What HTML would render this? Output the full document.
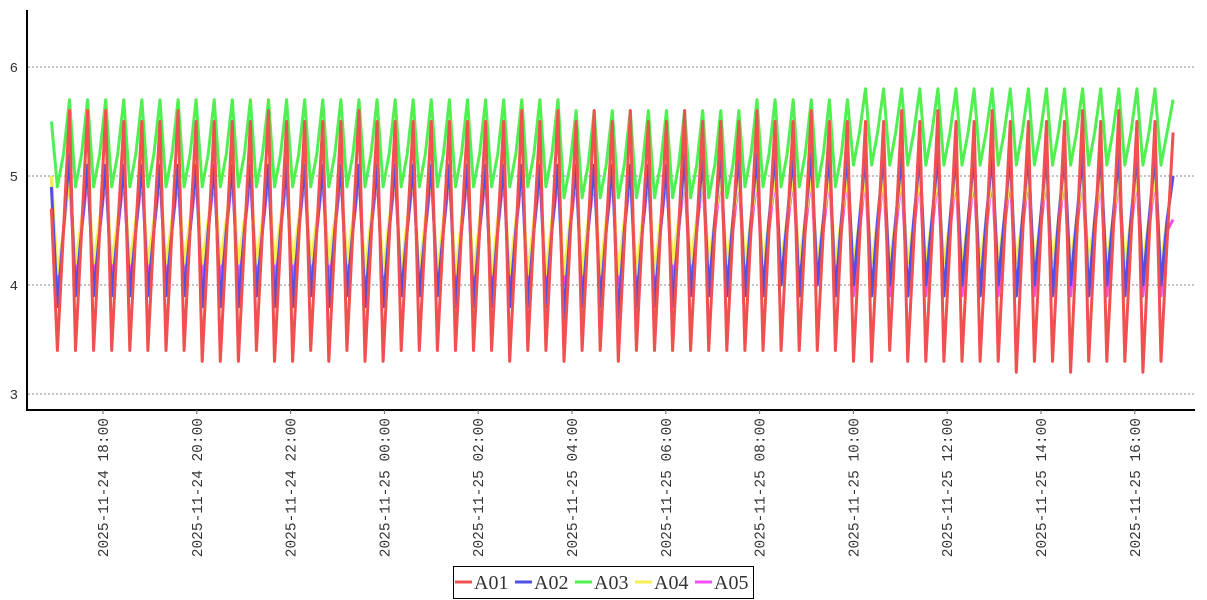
<!DOCTYPE html>
<html><head><meta charset="utf-8"><style>
body{margin:0;background:#fff;width:1207px;height:600px;overflow:hidden}
svg{display:block}
</style></head><body>
<svg id="chart" width="1207" height="600" xmlns="http://www.w3.org/2000/svg">
<g id="grid"></g>
<g id="series"></g>
<g id="axes"></g>
<g id="legend"></g>
</svg>
<script>
const yTicks=[3,4,5,6];
const xTickLabels=["2025-11-24 18:00","2025-11-24 20:00","2025-11-24 22:00","2025-11-25 00:00","2025-11-25 02:00","2025-11-25 04:00","2025-11-25 06:00","2025-11-25 08:00","2025-11-25 10:00","2025-11-25 12:00","2025-11-25 14:00","2025-11-25 16:00"];
const xTickHours=[18,20,22,24,26,28,30,32,34,36,38,40];
const seriesNames=["A01","A02","A03","A04","A05"];
const startHour=16.9;
const stepMinutes=7.715;
const a01=[4.7,
3.4,4.5,5.6,3.4,4.5,5.6,3.4,4.5,5.6,3.4,4.5,5.5,3.4,4.5,5.5,3.4,4.5,5.5,3.4,4.5,5.6,3.4,4.5,5.5,3.3,4.4,5.5,3.3,4.4,5.5,
3.3,4.4,5.5,3.4,4.5,5.6,3.3,4.4,5.5,3.3,4.4,5.5,3.4,4.5,5.5,3.3,4.4,5.5,3.4,4.5,5.6,3.3,4.4,5.5,3.3,4.4,5.5,3.4,4.5,5.5,
3.4,4.5,5.5,3.4,4.5,5.5,3.4,4.5,5.5,3.4,4.5,5.5,3.4,4.5,5.5,3.3,4.4,5.6,3.4,4.5,5.5,3.4,4.5,5.6,3.3,4.4,5.5,3.4,4.5,5.6,
3.4,4.5,5.5,3.3,4.4,5.6,3.4,4.5,5.5,3.4,4.5,5.5,3.4,4.5,5.6,3.4,4.5,5.5,3.4,4.5,5.5,3.4,4.5,5.5,3.4,4.5,5.6,3.4,4.5,5.5,
3.4,4.5,5.5,3.4,4.5,5.6,3.4,4.5,5.5,3.4,4.5,5.5,3.3,4.4,5.5,3.3,4.4,5.5,3.4,4.5,5.6,3.3,4.4,5.5,3.3,4.4,5.6,3.3,4.4,5.5,
3.3,4.4,5.5,3.3,4.4,5.6,3.3,4.4,5.5,3.2,4.4,5.5,3.3,4.4,5.5,3.3,4.4,5.5,3.2,4.4,5.6,3.3,4.4,5.5,3.3,4.4,5.6,3.3,4.4,5.5,
3.2,4.4,5.5,3.3,4.4,5.4];
const a02=[4.9,
3.8,4.5,5.2,3.9,4.5,5.1,3.9,4.5,5.1,3.9,4.5,5.1,3.9,4.5,5.1,3.9,4.5,5.1,3.9,4.5,5.1,3.9,4.5,5.1,3.8,4.5,5.1,3.8,4.5,5.1,
3.8,4.5,5.1,3.9,4.5,5.1,3.8,4.5,5.1,3.8,4.5,5.1,3.9,4.5,5.1,3.8,4.5,5.1,3.9,4.5,5.1,3.8,4.5,5.1,3.8,4.5,5.1,3.9,4.5,5.1,
3.9,4.5,5.1,3.9,4.5,5.1,3.8,4.5,5.1,3.8,4.5,5.1,3.8,4.5,5.1,3.8,4.5,5.1,3.8,4.5,5.1,3.8,4.5,5.1,3.7,4.5,5.1,3.8,4.5,5.1,
3.8,4.5,5.1,3.7,4.5,5.1,3.8,4.5,5.1,3.8,4.5,5.1,3.8,4.5,5.2,3.9,4.5,5.2,3.9,4.6,5.2,3.9,4.6,5.2,3.9,4.6,5.2,3.9,4.6,5.2,
4.0,4.6,5.2,3.9,4.6,5.2,4.0,4.6,5.2,3.9,4.6,5.2,4.0,4.6,5.2,3.9,4.6,5.2,4.0,4.6,5.2,3.9,4.6,5.2,4.0,4.6,5.2,3.9,4.6,5.2,
4.0,4.6,5.2,3.9,4.6,5.2,4.0,4.6,5.2,3.9,4.6,5.2,4.0,4.6,5.2,3.9,4.6,5.2,4.0,4.6,5.2,3.9,4.6,5.2,4.0,4.6,5.2,3.9,4.6,5.2,
4.0,4.6,5.2,4.0,4.6,5.0];
const a03=[5.5,
4.9,5.2,5.7,4.9,5.2,5.7,4.9,5.2,5.7,4.9,5.2,5.7,4.9,5.2,5.7,4.9,5.2,5.7,4.9,5.2,5.7,4.9,5.2,5.7,4.9,5.2,5.7,4.9,5.2,5.7,
4.9,5.2,5.7,4.9,5.2,5.7,4.9,5.2,5.7,4.9,5.2,5.7,4.9,5.2,5.7,4.9,5.2,5.7,4.9,5.2,5.7,4.9,5.2,5.7,4.9,5.2,5.7,4.9,5.2,5.7,
4.9,5.2,5.7,4.9,5.2,5.7,4.9,5.2,5.7,4.9,5.2,5.7,4.9,5.2,5.7,4.9,5.2,5.7,4.9,5.2,5.7,4.9,5.2,5.7,4.8,5.1,5.6,4.8,5.1,5.6,
4.8,5.1,5.6,4.8,5.1,5.6,4.8,5.1,5.6,4.8,5.1,5.6,4.8,5.1,5.6,4.8,5.1,5.6,4.8,5.1,5.6,4.8,5.1,5.6,4.9,5.2,5.7,4.9,5.2,5.7,
4.9,5.2,5.7,4.9,5.2,5.7,4.9,5.2,5.7,4.9,5.2,5.7,5.1,5.4,5.8,5.1,5.4,5.8,5.1,5.4,5.8,5.1,5.4,5.8,5.1,5.4,5.8,5.1,5.4,5.8,
5.1,5.4,5.8,5.1,5.4,5.8,5.1,5.4,5.8,5.1,5.4,5.8,5.1,5.4,5.8,5.1,5.4,5.8,5.1,5.4,5.8,5.1,5.4,5.8,5.1,5.4,5.8,5.1,5.4,5.8,
5.1,5.4,5.8,5.1,5.4,5.7];
const a04=[5.0,
4.1,4.5,5.0,4.2,4.6,5.0,4.2,4.6,5.0,4.2,4.6,5.0,4.2,4.6,5.0,4.2,4.6,5.0,4.2,4.6,5.0,4.2,4.6,5.0,4.2,4.6,5.0,4.2,4.6,5.0,
4.2,4.6,5.0,4.2,4.6,5.0,4.2,4.6,5.0,4.2,4.6,5.0,4.2,4.6,5.0,4.2,4.6,5.0,4.2,4.6,5.0,4.1,4.6,5.0,4.1,4.6,5.0,4.1,4.6,5.0,
4.1,4.6,5.0,4.1,4.6,5.0,4.1,4.6,5.0,4.1,4.6,5.0,4.1,4.6,5.0,4.1,4.6,5.0,4.1,4.6,5.0,4.1,4.6,5.0,4.1,4.6,5.0,4.1,4.6,5.0,
4.1,4.6,5.0,4.1,4.6,5.0,4.1,4.6,5.0,4.1,4.6,5.0,4.2,4.6,5.0,4.2,4.6,5.0,4.2,4.6,5.0,4.2,4.6,5.0,4.2,4.6,5.0,4.2,4.6,5.0,
4.2,4.6,5.0,4.2,4.6,5.0,4.2,4.6,5.0,4.2,4.6,5.0,4.2,4.6,5.0,4.2,4.6,5.0,4.2,4.6,5.0,4.2,4.6,5.0,4.2,4.6,5.0,4.2,4.6,5.0,
4.2,4.6,5.0,4.2,4.6,5.0,4.2,4.6,5.0,4.2,4.6,5.0,4.2,4.6,5.0,4.2,4.6,5.0,4.2,4.6,5.0,4.2,4.6,5.0,4.2,4.6,5.0,4.2,4.6,5.0,
4.2,4.6,5.0,4.2,4.6,5.0];
const a05=[5.0,
4.0,4.5,5.0,4.0,4.5,5.0,4.1,4.5,5.0,4.1,4.5,5.0,4.0,4.5,5.0,4.0,4.5,5.0,4.0,4.5,5.0,4.0,4.5,5.0,4.0,4.5,5.0,4.0,4.5,5.0,
4.0,4.5,5.0,4.0,4.5,5.0,4.0,4.5,5.0,4.0,4.5,5.0,4.0,4.5,5.0,4.0,4.5,5.0,4.0,4.5,5.0,4.0,4.5,5.0,4.0,4.5,5.0,4.0,4.5,5.0,
4.0,4.5,5.0,4.0,4.5,5.0,4.0,4.5,5.0,4.0,4.5,5.0,4.0,4.5,5.0,4.0,4.5,5.0,4.0,4.5,5.0,4.0,4.5,5.0,4.0,4.5,5.0,4.0,4.5,5.0,
4.0,4.5,5.0,4.0,4.5,5.0,4.0,4.5,5.0,4.0,4.5,5.0,4.0,4.5,5.0,4.0,4.5,5.0,4.0,4.5,5.0,4.0,4.5,5.0,4.0,4.5,5.0,4.0,4.5,5.0,
4.0,4.5,5.0,4.0,4.5,5.0,4.0,4.5,5.0,4.0,4.5,5.0,3.9,4.5,5.0,3.9,4.5,5.0,3.9,4.5,5.0,3.9,4.5,5.0,3.9,4.5,5.0,3.9,4.5,5.0,
3.9,4.5,5.0,3.9,4.5,5.0,3.9,4.5,5.0,3.9,4.5,5.0,3.9,4.5,5.0,3.9,4.5,5.0,3.9,4.5,5.0,3.9,4.5,5.0,3.9,4.5,5.0,3.9,4.5,5.0,
3.9,4.5,5.0,3.9,4.5,4.6];
const colors=["#f05050","#5050e6","#50f050","#f5f050","#f050f0"];

const NS="http://www.w3.org/2000/svg";
const X0=28,X1=1195,YTOP=10,YBOT=410;
function xScale(h){return 103+(h-18)*46.9;}
function yScale(v){return 176-(v-5)*109;}
function mk(tag,attrs,parent){const e=document.createElementNS(NS,tag);for(const k in attrs)e.setAttribute(k,attrs[k]);parent.appendChild(e);return e;}

const grid=document.getElementById('grid'),axes=document.getElementById('axes'),ser=document.getElementById('series'),leg=document.getElementById('legend');
yTicks.forEach(v=>{
  const l=mk('line',{x1:X0,x2:X1,y1:yScale(v),y2:yScale(v),stroke:'#888','stroke-width':1,'stroke-dasharray':'2,2'},grid);
  
  
  const t=mk('text',{x:18,y:yScale(v)+5,'text-anchor':'end','font-family':'Liberation Mono, monospace','font-size':14,fill:'#333'},axes);
  t.textContent=v;
  
  
});
const ya=mk('line',{x1:27,x2:27,y1:YTOP,y2:YBOT+1,stroke:'#000','stroke-width':2},axes);


const xa=mk('line',{x1:26,x2:X1,y1:YBOT,y2:YBOT,stroke:'#000','stroke-width':2},axes);


xTickLabels.forEach((lab,i)=>{
  const x=xScale(xTickHours[i]);
  const tk=mk('line',{x1:x,x2:x,y1:YBOT,y2:YBOT+4,stroke:'#666','stroke-width':1},axes);
  
  
  const t=mk('text',{x:0,y:0,'text-anchor':'end','font-family':'Liberation Mono, monospace','font-size':14.5,fill:'#333',transform:`translate(${x+5},418) rotate(-90)`},axes);
  t.textContent=lab;
  
  
});
const all=[a01,a02,a03,a04,a05];
for(let s=4;s>=0;s--){
  const d=all[s].map((v,i)=>(i?'L':'M')+xScale(startHour+i*stepMinutes/60).toFixed(1)+','+yScale(v).toFixed(1)).join('');
  const p=mk('path',{d:d,fill:'none',stroke:colors[s],'stroke-width':3,'stroke-linejoin':'round'},ser);
  
  
}
const box=mk('rect',{x:453.5,y:566.5,width:300,height:32,fill:'#fff',stroke:'#000','stroke-width':1},leg);


seriesNames.forEach((n,i)=>{
  const x0=455+i*60;
  const g=mk('g',{},leg);
  
  
  mk('line',{x1:x0,x2:x0+17,y1:582,y2:582,stroke:colors[i],'stroke-width':3},g);
  const t=mk('text',{x:x0+19,y:589,'font-family':'Liberation Serif, serif','font-size':20,fill:'#333'},g);
  t.textContent=n;
});
</script>
</body></html>
